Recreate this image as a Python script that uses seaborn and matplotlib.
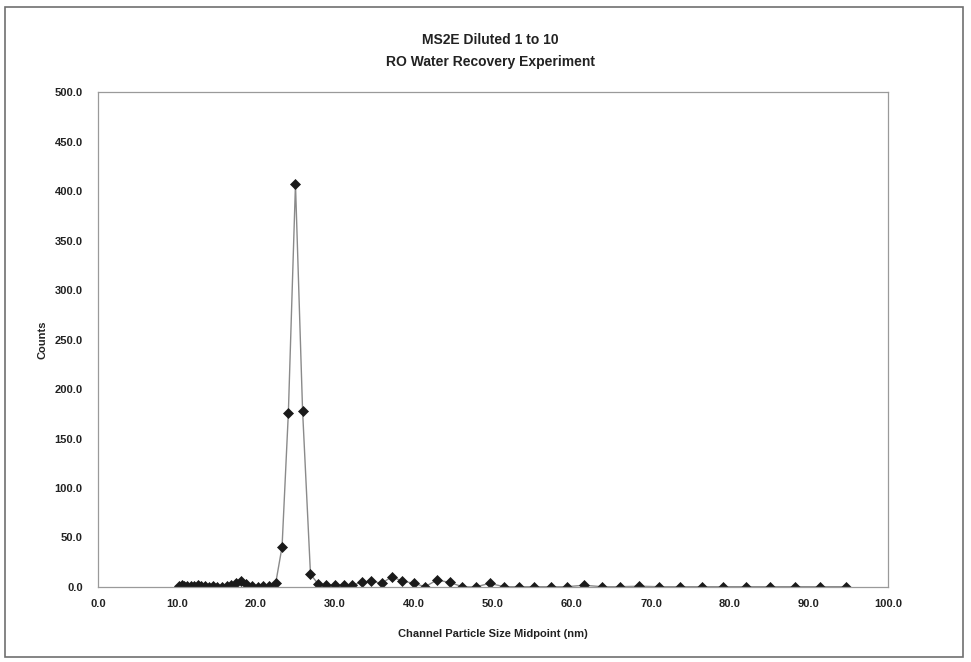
import matplotlib
matplotlib.use("Agg")
import matplotlib.pyplot as plt
import seaborn as sns
import pandas as pd
from matplotlib.patches import Rectangle

# Channel midpoints (nm) and particle counts per channel
size_nm = [10.2, 10.6, 10.9, 11.3, 11.8, 12.2, 12.6, 13.1, 13.6, 14.1, 14.6, 15.1,
           15.7, 16.3, 16.8, 17.5, 18.1, 18.8, 19.5, 20.2, 20.9, 21.7, 22.5, 23.3,
           24.1, 25.0, 25.9, 26.9, 27.9, 28.9, 30.0, 31.1, 32.2, 33.4, 34.6, 35.9,
           37.2, 38.5, 40.0, 41.4, 42.9, 44.5, 46.1, 47.8, 49.6, 51.4, 53.3, 55.2,
           57.3, 59.4, 61.5, 63.8, 66.1, 68.5, 71.0, 73.7, 76.4, 79.1, 82.0, 85.1,
           88.2, 91.4, 94.7]
counts = [1.5, 2.0, 1.0, 0.8, 1.5, 0.8, 1.8, 1.2, 1.0, 0.5, 0.8, 0.3,
          0.5, 1.0, 1.8, 4.0, 6.0, 2.7, 0.8, 0.5, 1.0, 0.8, 4.0, 40.5,
          176.0, 407.0, 178.0, 13.0, 2.7, 2.0, 2.0, 2.0, 2.0, 4.7, 6.0, 3.7,
          10.4, 6.0, 3.7, 0.3, 7.0, 4.7, 0.3, 0.1, 3.7, 0.3, 0.3, 0.3,
          0.3, 0.3, 1.8, 0.3, 0.3, 0.8, 0.3, 0.3, 0.3, 0.3, 0.3, 0.3,
          0.3, 0.3, 0.3]

x_ticks = [0, 10, 20, 30, 40, 50, 60, 70, 80, 90, 100]
y_ticks = [0, 50, 100, 150, 200, 250, 300, 350, 400, 450, 500]

df = pd.DataFrame({"size": size_nm, "counts": counts})

sns.set_theme(style="white")
plt.rcParams["font.family"] = ["Liberation Sans", "DejaVu Sans"]

fig = plt.figure(figsize=(9.71, 6.62), dpi=100)
ax = fig.add_axes([0.1009, 0.1133, 0.8136, 0.7477])

sns.lineplot(data=df, x="size", y="counts", ax=ax, color="#8a8a8a", linewidth=1.0,
             marker="D", markersize=5.2, markerfacecolor="#1a1a1a",
             markeredgecolor="#1a1a1a", markeredgewidth=0.5)

ax.set_xlim(0, 100)
ax.set_ylim(0, 500)
ax.set_xticks(x_ticks)
ax.set_yticks(y_ticks)
ax.set_xticklabels([f"{v:.1f}" for v in x_ticks], fontsize=8, fontweight="bold", color="#222222")
ax.set_yticklabels([f"{v:.1f}" for v in y_ticks], fontsize=8, fontweight="bold", color="#222222")
ax.tick_params(axis="x", length=0, pad=9)
ax.tick_params(axis="y", length=0, pad=11)

for side in ["left", "right", "top", "bottom"]:
    ax.spines[side].set_color("#9a9a9a")
    ax.spines[side].set_linewidth(0.9)

ax.set_xlabel("Channel Particle Size Midpoint (nm)", fontsize=8, fontweight="bold",
              color="#222222", labelpad=14)
ax.set_ylabel("Counts", fontsize=8, fontweight="bold", color="#222222", labelpad=5)

fig.text(0.505, 0.939, "MS2E Diluted 1 to 10", ha="center", va="center",
         fontsize=10, fontweight="bold", color="#222222")
fig.text(0.505, 0.906, "RO Water Recovery Experiment", ha="center", va="center",
         fontsize=10, fontweight="bold", color="#222222")

# Chart border
fig.patches.append(Rectangle((0.005, 0.007), 0.987, 0.983, transform=fig.transFigure,
                             fill=False, edgecolor="#707070", linewidth=1.2))

fig.savefig("out.png", dpi=100)
